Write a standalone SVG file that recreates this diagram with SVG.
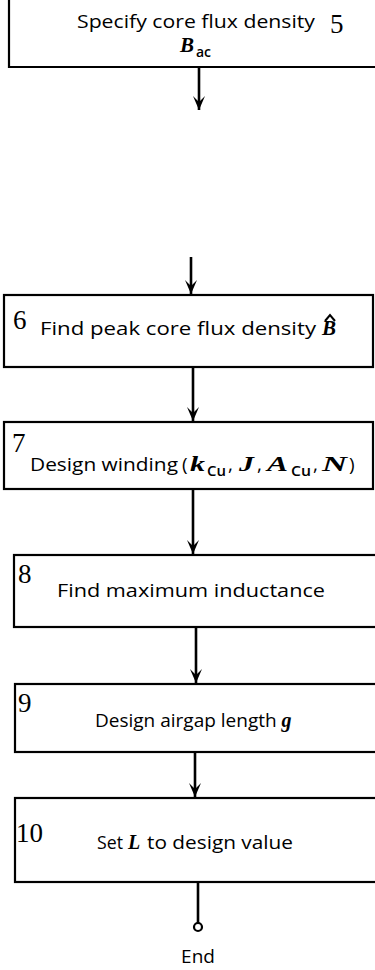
<svg xmlns="http://www.w3.org/2000/svg" width="375" height="970" viewBox="0 0 375 970">
<defs>
<style>
.box{fill:#fff;stroke:#000;stroke-width:2.2}
.ln{fill:none;stroke:#000;stroke-width:2.6}
.t{font-family:"Open Sans","Noto Sans",sans-serif;font-size:19px;fill:#000}
.n{font-family:"Liberation Serif",serif;font-size:27px;fill:#000}
.m{font-family:"Liberation Serif",serif;font-style:italic;font-weight:bold;fill:#000}
.s{font-family:"Open Sans","Noto Sans",sans-serif;font-size:14px;font-weight:600;fill:#000}
</style>
<marker id="ah" markerWidth="16" markerHeight="12" refX="15" refY="6" orient="auto" markerUnits="userSpaceOnUse" viewBox="0 0 16 12">
<path d="M1,0 L15,6 L1,12 L7,6 Z" fill="#000"/>
</marker>
</defs>
<g id="node5">
<path class="box" d="M9,-2 V67 H377" fill="none"/>
<text class="t" x="77" y="28" textLength="238" lengthAdjust="spacingAndGlyphs">Specify core flux density</text>
<text class="n" x="330" y="33">5</text>
<text class="m" x="180" y="52" font-size="21">B</text>
<text class="s" x="196" y="57" font-size="15">ac</text>
</g>
<g id="node6">
<rect class="box" x="4" y="295" width="369" height="72"/>
<text class="n" x="13" y="329">6</text>
<text class="t" x="40" y="335" textLength="276" lengthAdjust="spacingAndGlyphs">Find peak core flux density</text>
<text class="m" x="322" y="335" font-size="21">B</text>
<path d="M325,321 L330,315 L335,321" fill="none" stroke="#000" stroke-width="2"/>
</g>
<g id="node7">
<rect class="box" x="4" y="422" width="369" height="67"/>
<text class="n" x="12" y="452">7</text>
<text class="t" x="30" y="471" textLength="148" lengthAdjust="spacingAndGlyphs">Design winding</text>
<text class="t" x="182" y="471">(</text>
<text class="m" x="190" y="471" font-size="21" textLength="15" lengthAdjust="spacingAndGlyphs">k</text>
<text class="s" x="207" y="476" textLength="19" lengthAdjust="spacingAndGlyphs">Cu</text>
<text class="t" x="228" y="471">,</text>
<text class="m" x="239" y="471" font-size="21" textLength="15" lengthAdjust="spacingAndGlyphs">J</text>
<text class="t" x="257" y="471">,</text>
<text class="m" x="267" y="471" font-size="21" textLength="21" lengthAdjust="spacingAndGlyphs">A</text>
<text class="s" x="291" y="476" textLength="20" lengthAdjust="spacingAndGlyphs">Cu</text>
<text class="t" x="313" y="471">,</text>
<text class="m" x="322" y="471" font-size="21" textLength="25" lengthAdjust="spacingAndGlyphs">N</text>
<text class="t" x="349" y="471">)</text>
</g>
<g id="node8">
<rect class="box" x="14" y="555" width="370" height="72"/>
<text class="n" x="18" y="583">8</text>
<text class="t" x="57" y="597" textLength="268" lengthAdjust="spacingAndGlyphs">Find maximum inductance</text>
</g>
<g id="node9">
<rect class="box" x="15" y="684" width="370" height="68"/>
<text class="n" x="18" y="712">9</text>
<text x="95" y="727"><tspan class="t" font-size="14.5">Design airgap length </tspan><tspan class="m" font-size="20">g</tspan></text>
</g>
<g id="node10">
<rect class="box" x="15" y="798" width="370" height="84"/>
<text class="n" x="16" y="842">10</text>
<text class="t" x="97" y="849" textLength="26" lengthAdjust="spacingAndGlyphs">Set</text>
<text class="m" x="128" y="849" font-size="20">L</text>
<text class="t" x="147" y="849" textLength="146" lengthAdjust="spacingAndGlyphs">to design value</text>
</g>
<g id="end">
<circle cx="198" cy="927" r="4" fill="#fff" stroke="#000" stroke-width="2.2"/>
<text class="t" x="198" y="963" text-anchor="middle">End</text>
</g>
<g id="connectors">
<line class="ln" x1="199" y1="67" x2="199" y2="110" marker-end="url(#ah)"/>
<line class="ln" x1="191" y1="257" x2="191" y2="294" marker-end="url(#ah)"/>
<line class="ln" x1="193" y1="367" x2="193" y2="421" marker-end="url(#ah)"/>
<line class="ln" x1="193" y1="489" x2="193" y2="554" marker-end="url(#ah)"/>
<line class="ln" x1="196" y1="627" x2="196" y2="683" marker-end="url(#ah)"/>
<line class="ln" x1="195" y1="752" x2="195" y2="797" marker-end="url(#ah)"/>
<line class="ln" x1="198" y1="882" x2="198" y2="923"/>
</g>
</svg>
